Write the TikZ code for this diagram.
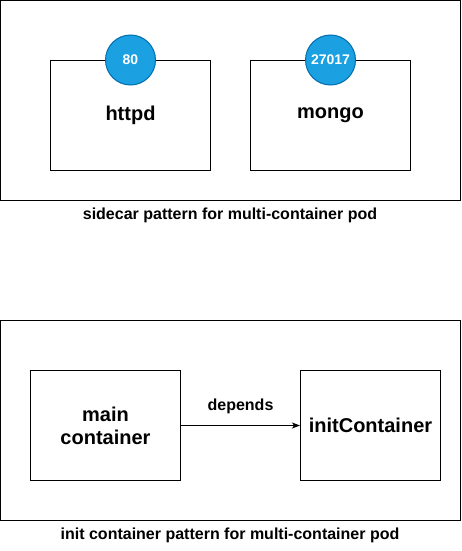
\documentclass[tikz,border=0pt]{standalone}
\usepackage{fontspec}
\setmainfont{Liberation Sans}
\usetikzlibrary{arrows.meta}
\definecolor{portfill}{HTML}{1BA1E2}
\definecolor{portline}{HTML}{006EAF}

\begin{document}
\begin{tikzpicture}[x=1pt, y=-1pt, line width=1pt,
    pod/.style={draw, minimum width=460pt, minimum height=200pt},
    ctr/.style={draw, align=center, inner sep=0pt, font=\fontsize{20}{23}\selectfont\bfseries},
    port/.style={circle, draw=portline, fill=portfill, text=white, minimum size=50pt, inner sep=0pt, font=\fontsize{14}{16}\selectfont\bfseries},
    caption/.style={font=\fontsize{16}{19}\selectfont\bfseries}]
    \useasboundingbox (0,0) rectangle (461,551);

    % Sidecar pod
    \node[pod] (sidecar) at (230.5,100.5) {};
    \node[ctr, minimum width=160pt, minimum height=110pt] (httpd) at (130.5,115.5) {httpd};
    \node[ctr, minimum width=160pt, minimum height=110pt] (mongo) at (330.5,115.5) {mongo};
    \node[port] (httpdport) at (httpd.north) {80};
    \node[port] (mongoport) at (mongo.north) {27017};
    \node[caption] (sidecarlabel) at (230,215) {sidecar pattern for multi-container pod};

    % Init container pod
    \node[pod] (initpod) at (230.5,420.5) {};
    \node[ctr, minimum width=150pt, minimum height=110pt] (main) at (105.5,425.5) {main\\container};
    \node[ctr, minimum width=140pt, minimum height=110pt] (init) at (370.5,425.5) {initContainer};
    \draw[-{Stealth[length=8pt, width=6pt, inset=2pt]}] (main) -- (init)
        node[midway, yshift=19pt, caption] (dep) {depends};
    \node[caption] (initlabel) at (230,535) {init container pattern for multi-container pod};
\end{tikzpicture}
\end{document}
